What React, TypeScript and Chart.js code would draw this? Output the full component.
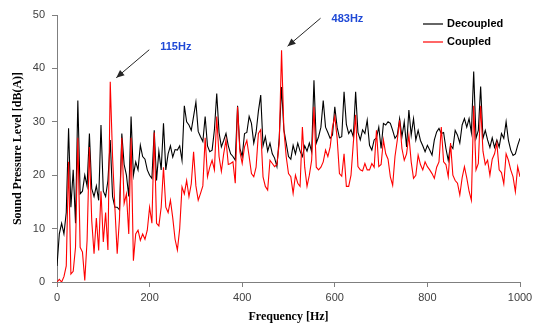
import React, { useEffect, useRef } from 'react';
import { Chart, registerables } from 'chart.js';

Chart.register(...registerables);

// Sampling grid of the spectrum (Hz)
const FREQUENCIES_HZ: number[] = Array.from({ length: 201 }, (_, i) => i * 5);

// Decoupled spectrum, dB(A), one value per 5 Hz (0..1000 Hz)
const DECOUPLED: number[] = [
  3, 9, 11, 9, 13, 28.8, 14, 21, 11, 34,
  16.5, 17, 20, 18, 27.8, 17.5, 16, 18, 15.3, 29.4,
  17, 16, 19, 26.6, 16, 14, 14, 13.5, 27.8, 22,
  20, 16, 31, 20, 22.5, 21, 25.6, 23.5, 23, 21,
  20, 19.4, 28.4, 19, 24.5, 21, 29.7, 21, 24, 25.5,
  23.4, 24.8, 24.7, 25.5, 22.8, 33, 30, 29.4, 28.4, 31,
  33.7, 28.2, 27.2, 26.3, 31, 25.5, 24.4, 24.7, 28.5, 35.3,
  28, 25.3, 26.5, 27.8, 25.5, 24, 23.5, 22.8, 33, 25,
  23.5, 27.8, 28, 31, 29.7, 26, 28, 32, 35, 25.5,
  27.2, 24.5, 26, 24, 23.2, 21.6, 27, 36.5, 28.5, 26,
  23.5, 23, 25.6, 24, 26, 24.5, 23.5, 25.5, 24.5, 26,
  24.4, 37.8, 26, 27.2, 29, 34, 29, 28, 26.9, 27.5,
  32.8, 29, 27, 27.2, 35.6, 29.5, 27.8, 28.5, 27.2, 35.6,
  28, 26.6, 28.5, 27.8, 30.3, 25.6, 24.7, 26.6, 27, 29,
  25, 29.7, 29.4, 30, 29.7, 28.4, 26.9, 27.5, 30.6, 27.2,
  30, 25.3, 32.2, 27.5, 30.6, 26.6, 28.4, 26.5, 25.5, 24.4,
  25.6, 24.7, 23.75, 26.6, 28.1, 28.75, 27.8, 28, 25, 22.8,
  25.6, 25, 28.4, 27.5, 26, 29.4, 30.6, 29, 30.6, 28,
  39.4, 26.9, 28.4, 36.6, 26.9, 28.4, 26.6, 25.2, 27, 25.2,
  26.6, 25.3, 27.8, 26.9, 30, 26.5, 24.7, 23.7, 24, 25.6,
  26.9,
];

// Coupled spectrum, dB(A), one value per 5 Hz (0..1000 Hz)
const COUPLED: number[] = [
  0, 0.5, 0, 1, 3, 22.5, 1.5, 2, 6.5, 27,
  6.5, 5.6, 0.3, 7.8, 25.3, 11.5, 5.3, 12, 5.9, 17,
  7.5, 13, 6, 37.5, 23.4, 14, 5.3, 12, 27, 14.7,
  16.5, 9, 27, 4, 9, 9.7, 7.8, 9, 8, 9.7,
  14, 11, 28, 11, 10.5, 14, 21.5, 14, 13, 15.3,
  12, 8, 6, 10, 17.8, 16.5, 19, 16, 18.4, 24.4,
  18, 15.3, 16.6, 18, 27, 19.7, 21.5, 22.8, 21, 31,
  23.5, 20.7, 24, 26.6, 22, 22.2, 22.5, 18.5, 32.8, 24.4,
  22.2, 25.3, 26.5, 23.5, 20.3, 19.7, 21.5, 27.8, 28.5, 19.7,
  17.9, 17.2, 22.8, 22.2, 21.6, 22, 26, 43.4, 28.5, 23.5,
  20.3, 19.7, 16.6, 20, 18.5, 17.9, 29, 21.5, 17.9, 20,
  22.8, 32.8, 21.5, 21, 21.5, 22.5, 24.7, 23.5, 25.3, 29,
  31, 27, 20.3, 19.8, 24, 17.9, 17.9, 20, 26, 31.3,
  21.6, 21, 20.8, 22.2, 21, 21, 22.2, 21.5, 28.4, 21.6,
  22, 26.6, 24, 23, 19.7, 18.1, 23.5, 26.6, 30.3, 25,
  22.8, 24, 27.5, 22.5, 19.4, 20, 23.75, 22, 21, 22.5,
  21.6, 21, 20.3, 19.4, 21.5, 22.5, 29, 22.5, 22, 19.7,
  26, 20, 19, 18.5, 16.3, 19.5, 21.6, 19.5, 17, 15.3,
  33, 21, 22.2, 33, 24.5, 22, 22.8, 20, 23, 24,
  26, 21, 20.5, 18.4, 24, 22.8, 21, 19.7, 16.9, 21.6,
  19.7,
];

const SERIES_NAMES = ['Decoupled', 'Coupled'];
const SERIES_COLORS = ['#000000', '#ff0000'];
const PEAK_FREQS = [115, 483];
const PEAK_LABELS = ['115Hz', '483Hz'];
const X_TITLE = 'Frequency [Hz]';
const Y_TITLE = 'Sound Pressure Level [dB(A)]';

// label vertical offsets relative to arrow tail (styling)
const LABEL_DY = [-3, 1];

function nearestIndex(f: number): number {
  let best = 0;
  for (let i = 0; i < FREQUENCIES_HZ.length; i++) {
    if (Math.abs(FREQUENCIES_HZ[i] - f) < Math.abs(FREQUENCIES_HZ[best] - f)) best = i;
  }
  return best;
}

const legendPlugin = {
  id: 'customLegend',
  afterDraw(chart: any) {
    const { ctx, chartArea } = chart;
    ctx.save();
    ctx.font = 'bold 11px "Liberation Sans", Arial, sans-serif';
    ctx.textBaseline = 'middle';
    SERIES_NAMES.forEach((name, i) => {
      const y = chartArea.top + 9 + i * 18;
      const x0 = chartArea.right - 97;
      ctx.strokeStyle = SERIES_COLORS[i];
      ctx.lineWidth = 1.2;
      ctx.beginPath();
      ctx.moveTo(x0, y);
      ctx.lineTo(x0 + 20, y);
      ctx.stroke();
      ctx.fillStyle = '#000';
      ctx.fillText(name, x0 + 24, y);
    });
    ctx.restore();
  },
};

const annotationPlugin = {
  id: 'peakAnnotations',
  afterDraw(chart: any) {
    const { ctx } = chart;
    const xs = chart.scales.x;
    const ys = chart.scales.y;
    ctx.save();
    PEAK_FREQS.forEach((f, k) => {
      const idx = nearestIndex(f);
      const px = xs.getPixelForValue(FREQUENCIES_HZ[idx]);
      const py = ys.getPixelForValue(COUPLED[idx]);
      const tipX = px + 6;
      const tipY = py - 4;
      const tailX = tipX + 33;
      const tailY = tipY - 28;
      ctx.strokeStyle = '#262626';
      ctx.fillStyle = '#262626';
      ctx.lineWidth = 1;
      ctx.beginPath();
      ctx.moveTo(tailX, tailY);
      ctx.lineTo(tipX, tipY);
      ctx.stroke();
      const ang = Math.atan2(tipY - tailY, tipX - tailX);
      const len = 8;
      const hw = 3.5;
      const bx = tipX - len * Math.cos(ang);
      const by = tipY - len * Math.sin(ang);
      ctx.beginPath();
      ctx.moveTo(tipX, tipY);
      ctx.lineTo(bx + hw * Math.sin(ang), by - hw * Math.cos(ang));
      ctx.lineTo(bx - hw * Math.sin(ang), by + hw * Math.cos(ang));
      ctx.closePath();
      ctx.fill();
      ctx.font = 'bold 11px "Liberation Sans", Arial, sans-serif';
      ctx.fillStyle = '#1f49d6';
      ctx.textBaseline = 'middle';
      ctx.textAlign = 'left';
      ctx.fillText(PEAK_LABELS[k], tailX + 11, tailY + LABEL_DY[k]);
    });
    ctx.restore();
  },
};

export default function App() {
  const ref = useRef<HTMLCanvasElement>(null);
  useEffect(() => {
    if (!ref.current) return;
    const chart = new Chart(ref.current, {
      type: 'line',
      data: {
        datasets: [
          {
            label: SERIES_NAMES[0],
            data: FREQUENCIES_HZ.map((f, i) => ({ x: f, y: DECOUPLED[i] })),
            borderColor: SERIES_COLORS[0],
            backgroundColor: SERIES_COLORS[0],
            borderWidth: 1.1,
            pointRadius: 0,
            tension: 0,
            order: 2,
          },
          {
            label: SERIES_NAMES[1],
            data: FREQUENCIES_HZ.map((f, i) => ({ x: f, y: COUPLED[i] })),
            borderColor: SERIES_COLORS[1],
            backgroundColor: SERIES_COLORS[1],
            borderWidth: 1.1,
            pointRadius: 0,
            tension: 0,
            order: 1,
          },
        ],
      },
      options: {
        responsive: false,
        animation: false,
        devicePixelRatio: 1,
        layout: { padding: { left: 8, right: 14, top: 15, bottom: 0 } },
        plugins: { legend: { display: false }, tooltip: { enabled: false } },
        scales: {
          x: {
            type: 'linear',
            min: 0,
            max: 1000,
            afterFit: (s: any) => { s.height = 43; s.paddingRight = 0; s.paddingLeft = 0; },
            ticks: {
              stepSize: 200,
              color: '#404040',
              font: { family: '"Liberation Sans", Arial, sans-serif', size: 11 },
              padding: 4,
              maxRotation: 0,
              callback: (v: any) => String(v),
            },
            grid: { drawOnChartArea: false, drawTicks: true, tickLength: 5, color: '#7f7f7f' },
            border: { color: '#7f7f7f', width: 1 },
            title: {
              display: true,
              text: X_TITLE,
              color: '#000',
              font: { family: '"Liberation Serif", "Times New Roman", serif', size: 12, weight: 'bold' },
              padding: { top: 0, bottom: 1 },
            },
          },
          y: {
            type: 'linear',
            min: 0,
            max: 50,
            afterFit: (s: any) => { s.width = 49; s.paddingTop = 0; s.paddingBottom = 0; },
            ticks: {
              stepSize: 10,
              color: '#404040',
              font: { family: '"Liberation Sans", Arial, sans-serif', size: 11 },
              padding: 7,
            },
            grid: { drawOnChartArea: false, drawTicks: true, tickLength: 5, color: '#7f7f7f' },
            border: { color: '#7f7f7f', width: 1 },
            title: {
              display: true,
              text: Y_TITLE,
              color: '#000',
              font: { family: '"Liberation Serif", "Times New Roman", serif', size: 12, weight: 'bold' },
              padding: { top: 3, bottom: 0 },
            },
          },
        },
      } as any,
      plugins: [legendPlugin, annotationPlugin],
    });
    return () => chart.destroy();
  }, []);
  return (
    <div style={{ position: 'absolute', left: 0, top: 0, width: 534, height: 325, background: '#fff' }}>
      <canvas ref={ref} width={534} height={325} style={{ display: 'block' }} />
    </div>
  );
}
